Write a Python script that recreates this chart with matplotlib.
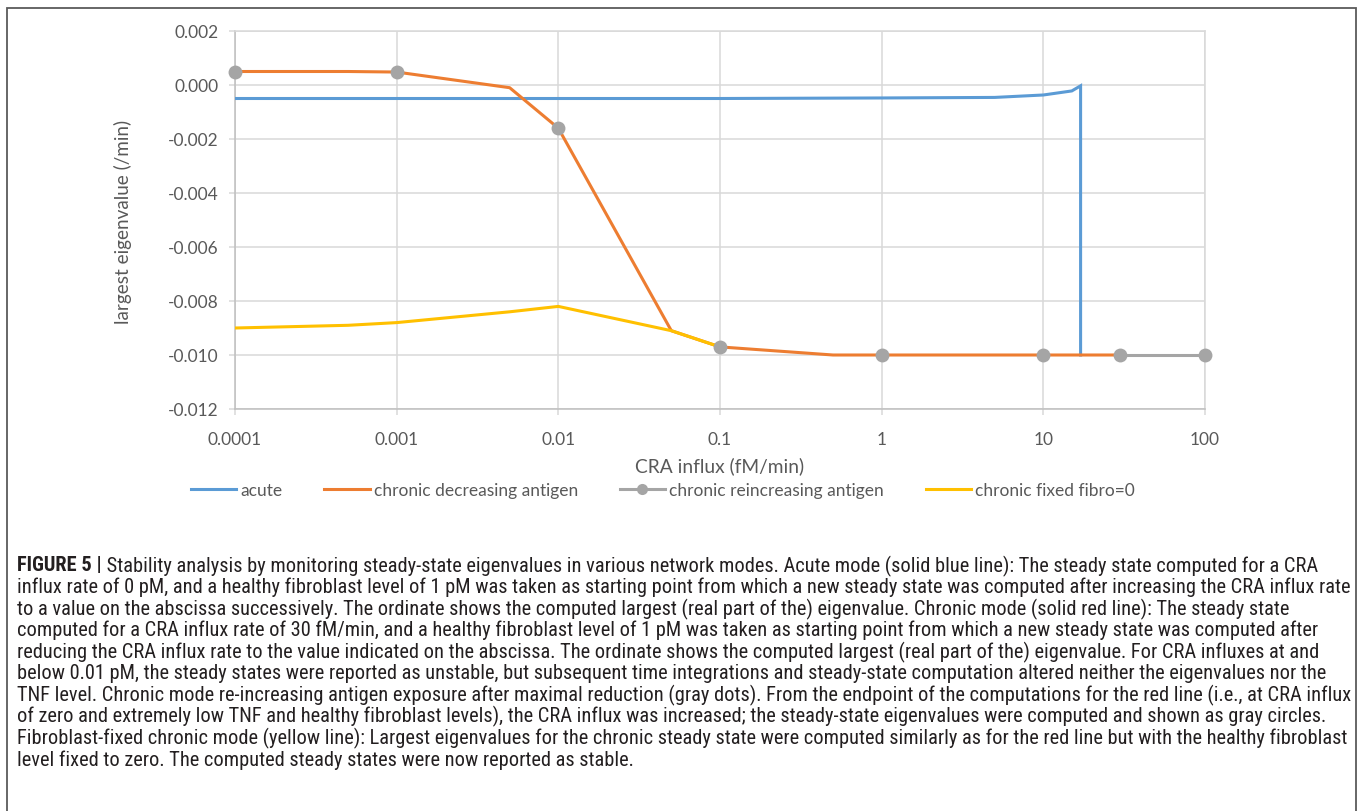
import matplotlib
matplotlib.use("Agg")
import matplotlib.pyplot as plt
from matplotlib.lines import Line2D
from matplotlib.patches import Rectangle
from matplotlib import font_manager as fm

# ---------------- data ----------------
x_acute = [0.0001, 0.001, 0.01, 0.1, 1, 5, 10, 15, 17, 17]
y_acute = [-0.0005, -0.0005, -0.0005, -0.0005, -0.00048, -0.00046, -0.00037, -0.00022, -0.00003, -0.0100]

x_decr = [0.0001, 0.0005, 0.001, 0.005, 0.01, 0.05, 0.1, 0.5, 1, 5, 10, 30]
y_decr = [0.0005, 0.0005, 0.00048, -0.0001, -0.0016, -0.0091, -0.0097, -0.0100, -0.0100, -0.0100, -0.0100, -0.0100]

x_reinc = [0.0001, 0.001, 0.01, 0.1, 1, 10, 30, 100]
y_reinc = [0.0005, 0.00048, -0.0016, -0.0097, -0.0100, -0.0100, -0.0100, -0.0100]

x_fixed = [0.0001, 0.0005, 0.001, 0.005, 0.01, 0.05, 0.1]
y_fixed = [-0.0090, -0.0089, -0.0088, -0.0084, -0.0082, -0.0091, -0.0097]

series_labels = ["acute", "chronic decreasing antigen", "chronic reincreasing antigen", "chronic fixed fibro=0"]
x_ticks = [0.0001, 0.001, 0.01, 0.1, 1, 10, 100]
x_ticklabels = ["0.0001", "0.001", "0.01", "0.1", "1", "10", "100"]
y_ticks = [0.002, 0.0, -0.002, -0.004, -0.006, -0.008, -0.010, -0.012]
y_ticklabels = ["0.002", "0.000", "-0.002", "-0.004", "-0.006", "-0.008", "-0.010", "-0.012"]
x_label = "CRA influx (fM/min)"
y_label = "largest eigenvalue (/min)"

caption_bold = "FIGURE 5 |"
caption_lines = [
    " Stability analysis by monitoring steady-state eigenvalues in various network modes. Acute mode (solid blue line): The steady state computed for a CRA",
    "influx rate of 0 pM, and a healthy fibroblast level of 1 pM was taken as starting point from which a new steady state was computed after increasing the CRA influx rate",
    "to a value on the abscissa successively. The ordinate shows the computed largest (real part of the) eigenvalue. Chronic mode (solid red line): The steady state",
    "computed for a CRA influx rate of 30 fM/min, and a healthy fibroblast level of 1 pM was taken as starting point from which a new steady state was computed after",
    "reducing the CRA influx rate to the value indicated on the abscissa. The ordinate shows the computed largest (real part of the) eigenvalue. For CRA influxes at and",
    "below 0.01 pM, the steady states were reported as unstable, but subsequent time integrations and steady-state computation altered neither the eigenvalues nor the",
    "TNF level. Chronic mode re-increasing antigen exposure after maximal reduction (gray dots). From the endpoint of the computations for the red line (i.e., at CRA influx",
    "of zero and extremely low TNF and healthy fibroblast levels), the CRA influx was increased; the steady-state eigenvalues were computed and shown as gray circles.",
    "Fibroblast-fixed chronic mode (yellow line): Largest eigenvalues for the chronic steady state were computed similarly as for the red line but with the healthy fibroblast",
    "level fixed to zero. The computed steady states were now reported as stable.",
]

# ---------------- style ----------------
C_BLUE = "#5B9BD5"
C_ORANGE = "#ED7D31"
C_GRAY = "#A5A5A5"
C_YELLOW = "#FFC000"
C_TEXT = "#595959"
C_GRID = "#D9D9D9"

def has_font(name):
    try:
        fm.findfont(fm.FontProperties(family=name), fallback_to_default=False)
        return True
    except Exception:
        return False

chart_font = "Lato" if has_font("Lato") else "DejaVu Sans"
cap_font = None
for f in ["Liberation Sans Narrow", "Roboto Condensed", "Open Sans Condensed", "Liberation Sans"]:
    if has_font(f):
        cap_font = f
        break
if cap_font is None:
    cap_font = "DejaVu Sans"

W, H = 1360, 812
fig = plt.figure(figsize=(W / 100, H / 100), dpi=100)

def fx(px):
    return px / W

def fy(py):
    return 1 - py / H

ax = fig.add_axes([fx(235), fy(410), fx(1205) - fx(235), fy(32) - fy(410)])
ax.set_xscale("log")
ax.set_xlim(0.0001, 100)
ax.set_ylim(-0.012, 0.002)

lw = 2.2
ax.plot(x_acute, y_acute, color=C_BLUE, lw=lw, zorder=3, solid_joinstyle="miter")
# gray connecting line is only visible on its last segment (hidden under the orange elsewhere)
ax.plot(x_reinc[-2:], y_reinc[-2:], color=C_GRAY, lw=lw, zorder=3.5)
ax.plot(x_decr, y_decr, color=C_ORANGE, lw=lw, zorder=4)
ax.plot(x_fixed, y_fixed, color=C_YELLOW, lw=lw, zorder=5)
ax.plot(x_reinc, y_reinc, linestyle="none", marker="o", markersize=10,
        color=C_GRAY, markeredgewidth=0, zorder=6, clip_on=False)

ax.set_xticks(x_ticks)
ax.set_xticklabels(x_ticklabels)
ax.xaxis.set_minor_locator(matplotlib.ticker.NullLocator())
ax.set_yticks(y_ticks)
ax.set_yticklabels(y_ticklabels)
ax.grid(True, which="major", color=C_GRID, lw=1.1, zorder=0)
ax.set_axisbelow(True)
for s in ax.spines.values():
    s.set_color(C_GRID)
    s.set_linewidth(1.1)
ax.spines["left"].set_color("#BFBFBF")
ax.spines["bottom"].set_color("#BFBFBF")
ax.tick_params(axis="both", colors=C_GRID, length=4, width=1.1, labelcolor=C_TEXT,
               labelsize=12.5, pad=8)
for lab in ax.get_xticklabels() + ax.get_yticklabels():
    lab.set_family(chart_font)
ax.tick_params(axis="x", pad=12)

fig.text(fx(123), fy(222), y_label, rotation=90, ha="center", va="center",
         fontsize=13.6, color=C_TEXT, family=chart_font)
fig.text(fx(720), fy(466), x_label, ha="center", va="center",
         fontsize=13.8, color=C_TEXT, family=chart_font)

handles = [
    Line2D([], [], color=C_BLUE, lw=lw),
    Line2D([], [], color=C_ORANGE, lw=lw),
    Line2D([], [], color=C_GRAY, lw=lw, marker="o", markersize=8, markeredgewidth=0),
    Line2D([], [], color=C_YELLOW, lw=lw),
]
leg = fig.legend(handles, series_labels, loc="center", bbox_to_anchor=(fx(663), fy(491)),
                 ncol=4, frameon=False, handlelength=2.6, handletextpad=0.25,
                 columnspacing=2.4, prop={"family": chart_font, "size": 12.5})
for t in leg.get_texts():
    t.set_color(C_TEXT)

# border
fig.add_artist(Rectangle((fx(7), fy(830)), fx(1356) - fx(7), fy(8.5) - fy(830),
                         transform=fig.transFigure, fill=False, edgecolor="#5A5A5A",
                         lw=1.3, clip_on=False))

# caption
renderer = fig.canvas.get_renderer()
cap_color = "#231F20"
size = 12.0
probe = fig.text(0, 0, caption_lines[1], fontsize=size, family=cap_font)
wpx = probe.get_window_extent(renderer).width
probe.remove()
size = size * (1347 - 17) / wpx

x0 = fx(17)
line_y = [566 + i * 21.55 for i in range(len(caption_lines))]
tb = fig.text(x0, fy(line_y[0]), caption_bold, fontsize=size, family=cap_font,
              weight="bold", color=cap_color, va="center", ha="left")
bw = tb.get_window_extent(renderer).width
fig.text(x0 + bw / W, fy(line_y[0]), caption_lines[0], fontsize=size, family=cap_font,
         color=cap_color, va="center", ha="left")
for i in range(1, len(caption_lines)):
    fig.text(x0, fy(line_y[i]), caption_lines[i], fontsize=size, family=cap_font,
             color=cap_color, va="center", ha="left")

fig.savefig("out.png", dpi=100, facecolor="white")
